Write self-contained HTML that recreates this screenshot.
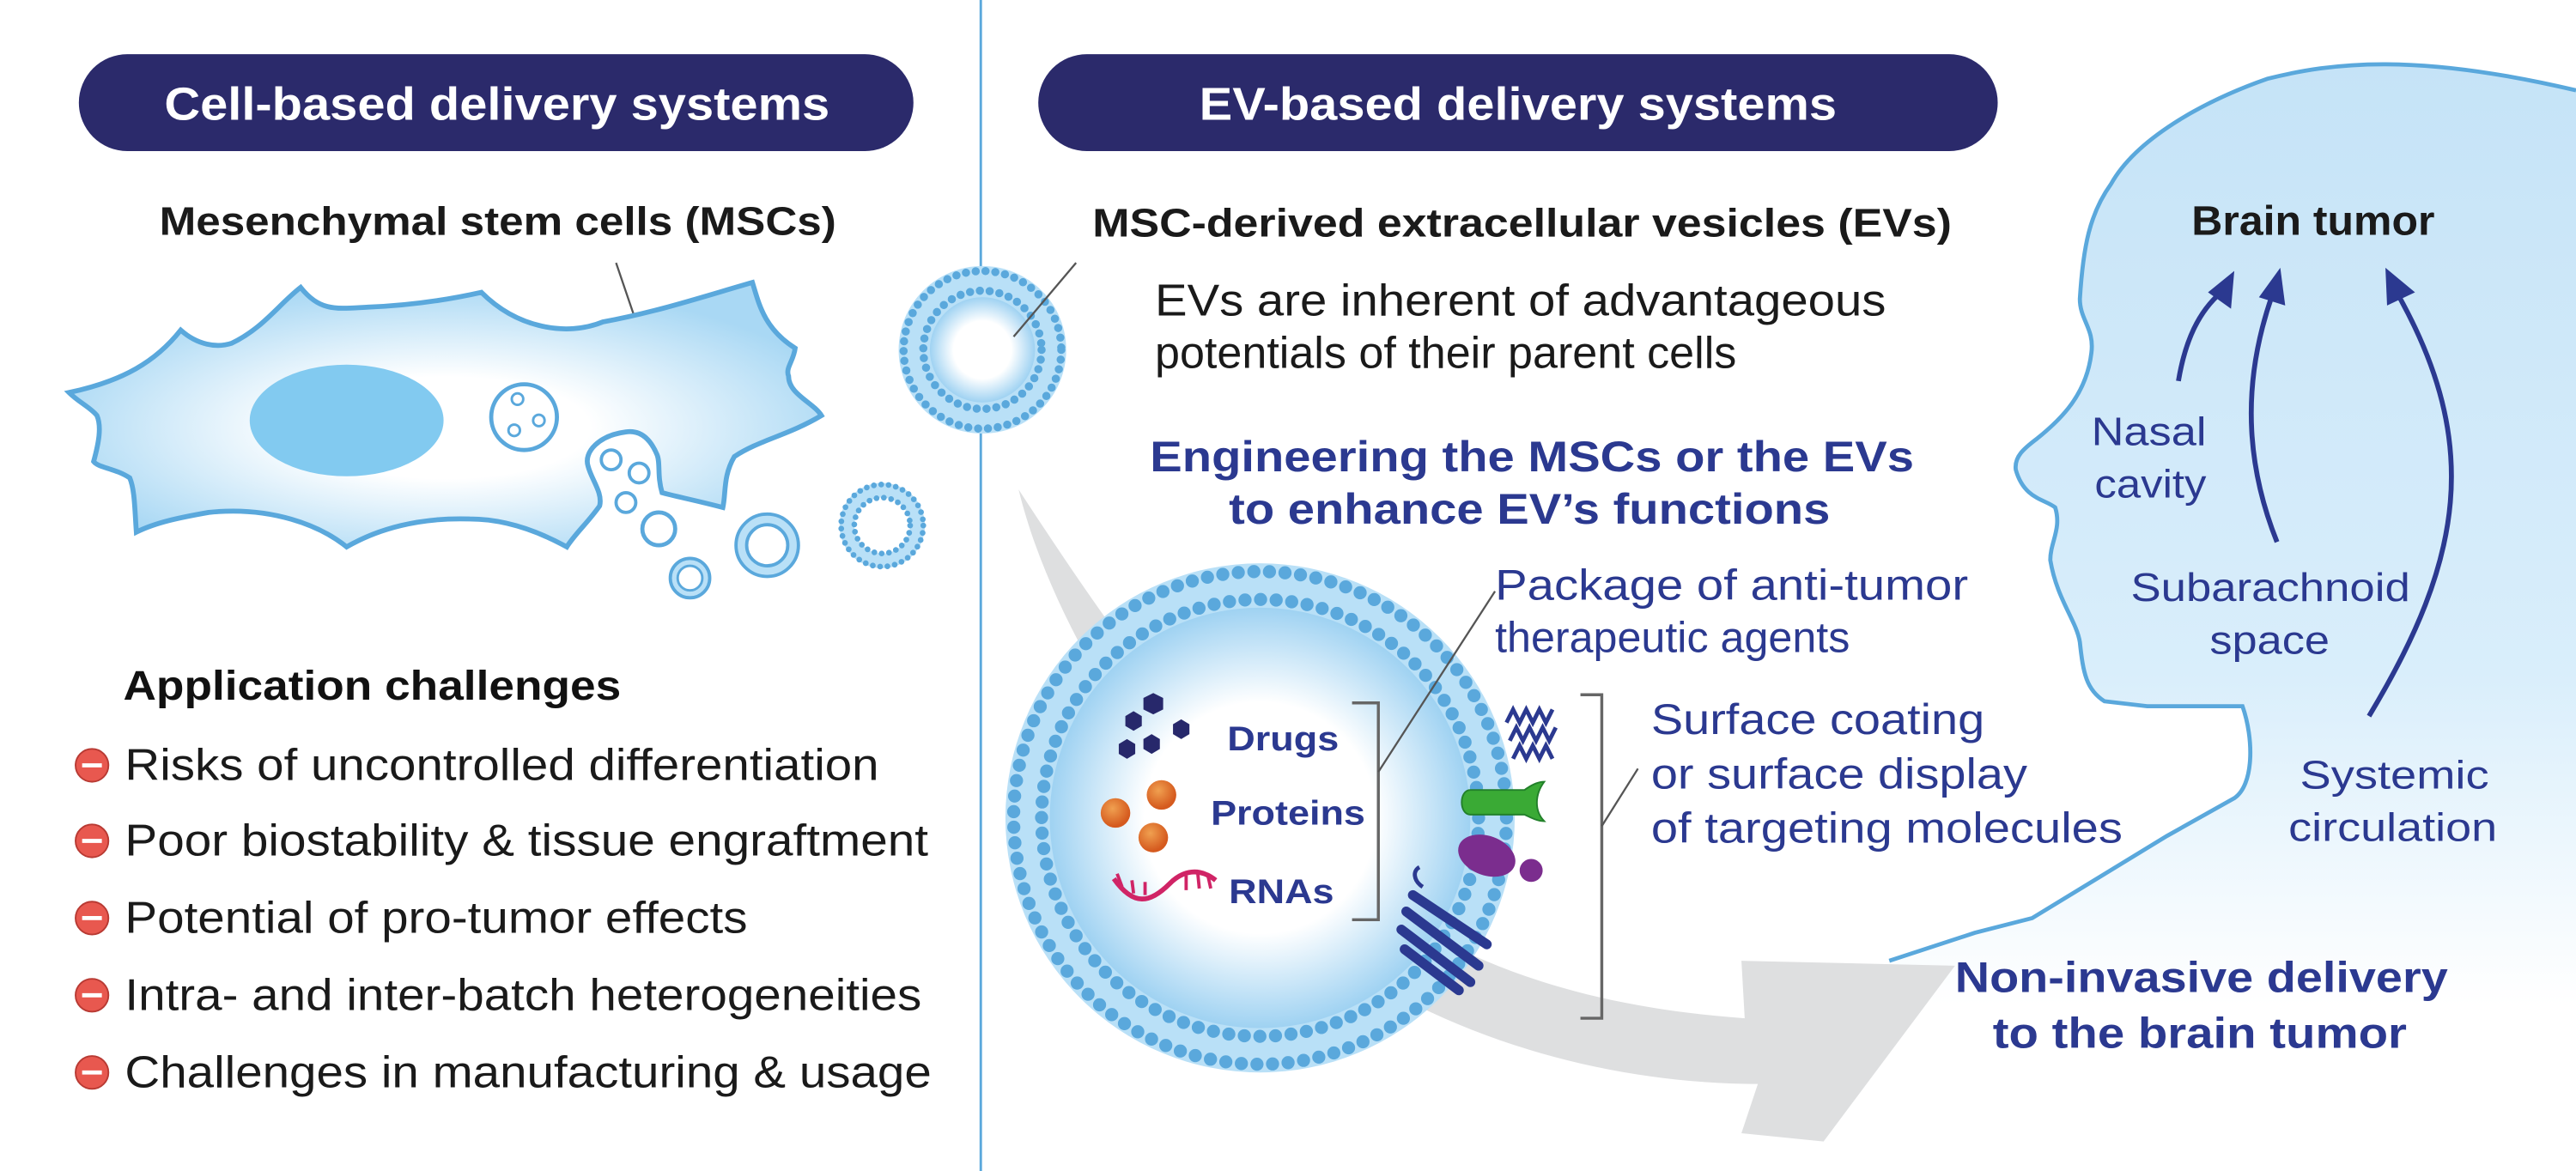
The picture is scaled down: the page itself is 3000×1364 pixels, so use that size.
<!DOCTYPE html>
<html><head><meta charset="utf-8"><style>
html,body{margin:0;padding:0;background:#fff}
svg{display:block}
text{font-family:"Liberation Sans",Arial,sans-serif}
</style></head><body>
<svg width="3000" height="1364" viewBox="0 0 1568 713" preserveAspectRatio="none" xmlns="http://www.w3.org/2000/svg">
<defs>
<radialGradient id="cellg" cx="0.5" cy="0.55" r="0.55"><stop offset="0" stop-color="#fff"/><stop offset="0.35" stop-color="#fff"/><stop offset="1" stop-color="#a9d8f4"/></radialGradient>
<radialGradient id="evg" cx="0.5" cy="0.5" r="0.5"><stop offset="0" stop-color="#fff"/><stop offset="0.55" stop-color="#fff"/><stop offset="1" stop-color="#9fd2f2"/></radialGradient>
<linearGradient id="headg" x1="0" y1="0" x2="0" y2="1"><stop offset="0" stop-color="#c5e3f7"/><stop offset="0.55" stop-color="#d9eefb"/><stop offset="0.85" stop-color="#fff"/></linearGradient>
<radialGradient id="org" cx="0.4" cy="0.35" r="0.6"><stop offset="0" stop-color="#f0a050"/><stop offset="1" stop-color="#d55a1e"/></radialGradient>
</defs>

<line x1="597" y1="0" x2="597" y2="713" stroke="#5aa8dc" stroke-width="1.5"/>

<!-- head -->
<path d="M1150,585 L1202,568 L1237,559 L1319,509 L1360,486 C1372,478 1372,450 1365,430 L1307,430 L1281,427 C1270,420 1268,410 1266,391 C1264,378 1252,365 1248,341 C1248,330 1255,322 1251,309 C1245,304 1232,304 1227,286 C1226,278 1232,273 1240,267 C1255,255 1270,240 1273,215 C1275,200 1266,195 1266,182 C1268,150 1272,130 1285,112 C1300,85 1340,62 1380,48 C1420,38 1470,32 1568,55 L1568,713 L1150,713 Z" fill="url(#headg)"/>
<path d="M1150,585 L1202,568 L1237,559 L1319,509 L1360,486 C1372,478 1372,450 1365,430 L1307,430 L1281,427 C1270,420 1268,410 1266,391 C1264,378 1252,365 1248,341 C1248,330 1255,322 1251,309 C1245,304 1232,304 1227,286 C1226,278 1232,273 1240,267 C1255,255 1270,240 1273,215 C1275,200 1266,195 1266,182 C1268,150 1272,130 1285,112 C1300,85 1340,62 1380,48 C1420,38 1470,32 1568,55" fill="none" stroke="#5aa8dc" stroke-width="2.5"/>

<!-- gray arrow -->
<path d="M620,298 C640,380 700,470 760,540 C840,620 960,660 1070,660 L1060,690 L1110,695 L1190,588 L1060,585 L1062,620 C950,612 870,580 800,520 C730,460 680,390 620,298 Z" fill="#dedfe0"/>

<!-- pills -->
<rect x="48" y="33" width="508" height="59" rx="29.5" fill="#2b2a6b"/>
<text x="100" y="73" font-size="28" font-weight="bold" fill="#fff" textLength="405" lengthAdjust="spacingAndGlyphs">Cell-based delivery systems</text>
<rect x="632" y="33" width="584" height="59" rx="29.5" fill="#2b2a6b"/>
<text x="730" y="73" font-size="28" font-weight="bold" fill="#fff" textLength="388" lengthAdjust="spacingAndGlyphs">EV-based delivery systems</text>

<text x="97" y="143" font-size="24" font-weight="bold" fill="#1a1a1a" textLength="412" lengthAdjust="spacingAndGlyphs">Mesenchymal stem cells (MSCs)</text>
<line x1="375" y1="160" x2="392" y2="210" stroke="#555" stroke-width="1.2"/>

<!-- cell -->
<path d="M42,239 C75,232 95,220 110,201 C120,210 132,212 141,209 C160,200 170,185 183,175 C195,190 205,188 224,187 C250,186 275,182 293,178 C315,200 345,205 367,196 C400,190 430,180 458,172 C462,185 465,200 484,212 C483,220 478,224 480,229 C480,240 495,245 500,253 C480,265 462,268 447,278 C440,290 442,300 440,309 C425,305 410,302 403,300 C400,290 402,282 400,277 C395,265 388,262 381,263 C365,265 355,275 358,284 C360,292 367,300 365,308 C358,318 350,325 345,333 C325,322 305,316 286,316 C255,315 230,322 211,333 C195,320 165,308 127,312 C110,315 95,318 83,324 C82,310 82,298 79,291 C70,285 60,285 57,281 C60,270 62,260 59,253 C55,248 48,245 42,239 Z" fill="url(#cellg)" stroke="#5aa8dc" stroke-width="3"/>
<ellipse cx="211" cy="256" rx="59" ry="34" fill="#82caf0"/>
<ellipse cx="319" cy="254" rx="20" ry="20" fill="#fff" stroke="#5aa8dc" stroke-width="2.5"/>
<circle cx="315" cy="243" r="3.5" fill="#fff" stroke="#5aa8dc" stroke-width="1.5"/>
<circle cx="328" cy="256" r="3.5" fill="#fff" stroke="#5aa8dc" stroke-width="1.5"/>
<circle cx="313" cy="262" r="3.5" fill="#fff" stroke="#5aa8dc" stroke-width="1.5"/>
<circle cx="372" cy="280" r="6" fill="#fff" stroke="#5aa8dc" stroke-width="2"/>
<circle cx="389" cy="288" r="6" fill="#fff" stroke="#5aa8dc" stroke-width="2"/>
<circle cx="381" cy="306" r="6" fill="#fff" stroke="#5aa8dc" stroke-width="2"/>
<circle cx="401" cy="322" r="10" fill="#fff" stroke="#5aa8dc" stroke-width="2.5"/>
<circle cx="420" cy="352" r="12" fill="#b9e0f7" stroke="#5aa8dc" stroke-width="2"/>
<circle cx="420" cy="352" r="7.5" fill="#fff" stroke="#5aa8dc" stroke-width="1.5"/>
<circle cx="467" cy="332" r="19" fill="#b9e0f7" stroke="#5aa8dc" stroke-width="2"/>
<circle cx="467" cy="332" r="12.5" fill="#fff" stroke="#5aa8dc" stroke-width="2"/>
<circle cx="537" cy="320" r="26" fill="#b9e0f7"/>
<circle cx="537" cy="320" r="25" fill="none" stroke="#5aa8dc" stroke-width="3.5" stroke-dasharray="0 4.5" stroke-linecap="round"/>
<circle cx="537" cy="320" r="17" fill="#fff" stroke="#5aa8dc" stroke-width="3.5" stroke-dasharray="0 4.5" stroke-linecap="round"/>

<!-- challenges -->
<text x="75" y="426" font-size="25" font-weight="bold" fill="#111" textLength="303" lengthAdjust="spacingAndGlyphs">Application challenges</text>
<g font-size="27" fill="#1a1a1a">
<text x="76" y="475" textLength="459" lengthAdjust="spacingAndGlyphs">Risks of uncontrolled differentiation</text>
<text x="76" y="521" textLength="489" lengthAdjust="spacingAndGlyphs">Poor biostability &amp; tissue engraftment</text>
<text x="76" y="568" textLength="379" lengthAdjust="spacingAndGlyphs">Potential of pro-tumor effects</text>
<text x="76" y="615" textLength="485" lengthAdjust="spacingAndGlyphs">Intra- and inter-batch heterogeneities</text>
<text x="76" y="662" textLength="491" lengthAdjust="spacingAndGlyphs">Challenges in manufacturing &amp; usage</text>
</g>
<g fill="#e8584f" stroke="#b83a33" stroke-width="1">
<circle cx="56" cy="466" r="10"/><circle cx="56" cy="512" r="10"/><circle cx="56" cy="559" r="10"/><circle cx="56" cy="606" r="10"/><circle cx="56" cy="653" r="10"/>
</g>
<g stroke="#fff" stroke-width="2.5">
<line x1="50" y1="466" x2="62" y2="466"/><line x1="50" y1="512" x2="62" y2="512"/><line x1="50" y1="559" x2="62" y2="559"/><line x1="50" y1="606" x2="62" y2="606"/><line x1="50" y1="653" x2="62" y2="653"/>
</g>

<!-- small EV -->
<circle cx="598" cy="213" r="51" fill="#b9e0f7"/>
<circle cx="598" cy="213" r="32" fill="url(#evg)"/>
<circle cx="598" cy="213" r="48" fill="none" stroke="#5aa8dc" stroke-width="5" stroke-dasharray="0 6" stroke-linecap="round"/>
<circle cx="598" cy="213" r="36" fill="none" stroke="#5aa8dc" stroke-width="5" stroke-dasharray="0 6" stroke-linecap="round"/>
<line x1="617" y1="205" x2="655" y2="160" stroke="#555" stroke-width="1.2"/>

<text x="665" y="144" font-size="24" font-weight="bold" fill="#1a1a1a" textLength="523" lengthAdjust="spacingAndGlyphs">MSC-derived extracellular vesicles (EVs)</text>
<text x="703" y="192" font-size="27" fill="#1a1a1a" textLength="445" lengthAdjust="spacingAndGlyphs">EVs are inherent of advantageous</text>
<text x="703" y="224" font-size="27" fill="#1a1a1a" textLength="354" lengthAdjust="spacingAndGlyphs">potentials of their parent cells</text>
<text x="700" y="287" font-size="26" font-weight="bold" fill="#2b3990" textLength="465" lengthAdjust="spacingAndGlyphs">Engineering the MSCs or the EVs</text>
<text x="748" y="319" font-size="26" font-weight="bold" fill="#2b3990" textLength="366" lengthAdjust="spacingAndGlyphs">to enhance EV’s functions</text>

<!-- big EV -->
<circle cx="767" cy="498" r="155" fill="#b9e0f7"/>
<circle cx="767" cy="498" r="128" fill="url(#evg)"/>
<circle cx="767" cy="498" r="150" fill="none" stroke="#5aa8dc" stroke-width="8" stroke-dasharray="0 9.5" stroke-linecap="round"/>
<circle cx="767" cy="498" r="133" fill="none" stroke="#5aa8dc" stroke-width="8" stroke-dasharray="0 9.5" stroke-linecap="round"/>

<g fill="#27286b">
<polygon points="702,422 708,425 708,432 702,435 696,432 696,425"/>
<polygon points="690,433 695,436 695,442 690,445 685,442 685,436"/>
<polygon points="719,438 724,441 724,447 719,450 714,447 714,441"/>
<polygon points="701,447 706,450 706,456 701,459 696,456 696,450"/>
<polygon points="686,450 691,453 691,459 686,462 681,459 681,453"/>
</g>
<text x="747" y="457" font-size="21" font-weight="bold" fill="#2b3990" textLength="68" lengthAdjust="spacingAndGlyphs">Drugs</text>
<circle cx="707" cy="484" r="9" fill="url(#org)"/>
<circle cx="679" cy="495" r="9" fill="url(#org)"/>
<circle cx="702" cy="510" r="9" fill="url(#org)"/>
<text x="737" y="502" font-size="21" font-weight="bold" fill="#2b3990" textLength="94" lengthAdjust="spacingAndGlyphs">Proteins</text>
<path d="M678,535 C690,552 700,550 712,538 C720,530 730,528 740,536" fill="none" stroke="#d02466" stroke-width="3"/>
<g stroke="#d02466" stroke-width="2"><line x1="683" y1="540" x2="680" y2="532"/><line x1="690" y1="544" x2="689" y2="536"/><line x1="697" y1="545" x2="697" y2="537"/><line x1="722" y1="533" x2="722" y2="542"/><line x1="729" y1="531" x2="730" y2="541"/><line x1="735" y1="532" x2="737" y2="541"/></g>
<text x="748" y="550" font-size="21" font-weight="bold" fill="#2b3990" textLength="64" lengthAdjust="spacingAndGlyphs">RNAs</text>

<polyline points="823,428 839,428 839,560 823,560" fill="none" stroke="#666" stroke-width="1.8"/>
<line x1="839" y1="470" x2="910" y2="360" stroke="#555" stroke-width="1.2"/>
<text x="910" y="365" font-size="26" fill="#2b3990" textLength="288" lengthAdjust="spacingAndGlyphs">Package of anti-tumor</text>
<text x="910" y="397" font-size="26" fill="#2b3990" textLength="216" lengthAdjust="spacingAndGlyphs">therapeutic agents</text>

<g fill="none" stroke="#2b3990" stroke-width="2.5">
<path d="M917,440 l4,-8 l4,8 l4,-8 l4,8 l4,-8 l4,8 l4,-8"/>
<path d="M919,451 l4,-8 l4,8 l4,-8 l4,8 l4,-8 l4,8 l4,-8"/>
<path d="M921,462 l4,-8 l4,8 l4,-8 l4,8 l4,-8 l4,8"/>
</g>
<path d="M895,481 L928,481 C932,478 936,476 940,476 C934,484 934,494 940,500 C936,500 932,498 928,496 L895,496 C888,496 888,481 895,481 Z" fill="#3aaa35" stroke="#22802a" stroke-width="1"/>
<ellipse cx="905" cy="521" rx="18" ry="12" fill="#7b2d8e" transform="rotate(20 905 521)"/>
<circle cx="932" cy="530" r="7" fill="#7b2d8e"/>
<g fill="none" stroke="#2b3990" stroke-width="6" stroke-linecap="round">
<line x1="860" y1="545" x2="905" y2="575"/>
<line x1="856" y1="555" x2="900" y2="588"/>
<line x1="853" y1="566" x2="895" y2="598"/>
<line x1="855" y1="578" x2="888" y2="603"/>
</g>
<path d="M866,540 C860,536 860,530 864,528" fill="none" stroke="#2b3990" stroke-width="2.5"/>

<polyline points="962,423 975,423 975,620 962,620" fill="none" stroke="#666" stroke-width="1.8"/>
<line x1="975" y1="503" x2="997" y2="468" stroke="#555" stroke-width="1.2"/>
<text x="1005" y="447" font-size="26" fill="#2b3990" textLength="203" lengthAdjust="spacingAndGlyphs">Surface coating</text>
<text x="1005" y="480" font-size="26" fill="#2b3990" textLength="229" lengthAdjust="spacingAndGlyphs">or surface display</text>
<text x="1005" y="513" font-size="26" fill="#2b3990" textLength="287" lengthAdjust="spacingAndGlyphs">of targeting molecules</text>

<!-- head labels -->
<text x="1334" y="143" font-size="25" font-weight="bold" fill="#1a1a1a" textLength="148" lengthAdjust="spacingAndGlyphs">Brain tumor</text>
<g fill="none" stroke="#2b3990" stroke-width="3">
<path d="M1326,232 C1330,208 1338,190 1352,178"/>
<path d="M1386,330 C1370,290 1362,240 1383,180"/>
<path d="M1442,436 C1500,340 1510,270 1460,180"/>
</g>
<g fill="#2b3990">
<polygon points="1360,165 1344,178 1358,188"/>
<polygon points="1388,163 1375,181 1391,186"/>
<polygon points="1452,163 1453,186 1470,178"/>
</g>
<g font-size="24" fill="#2b3990">
<text x="1273" y="271" textLength="70" lengthAdjust="spacingAndGlyphs">Nasal</text>
<text x="1275" y="303" textLength="68" lengthAdjust="spacingAndGlyphs">cavity</text>
<text x="1297" y="366" textLength="170" lengthAdjust="spacingAndGlyphs">Subarachnoid</text>
<text x="1345" y="398" textLength="73" lengthAdjust="spacingAndGlyphs">space</text>
<text x="1400" y="480" textLength="115" lengthAdjust="spacingAndGlyphs">Systemic</text>
<text x="1393" y="512" textLength="127" lengthAdjust="spacingAndGlyphs">circulation</text>
</g>
<text x="1190" y="604" font-size="26" font-weight="bold" fill="#2b3990" textLength="300" lengthAdjust="spacingAndGlyphs">Non-invasive delivery</text>
<text x="1213" y="638" font-size="26" font-weight="bold" fill="#2b3990" textLength="252" lengthAdjust="spacingAndGlyphs">to the brain tumor</text>
</svg>
</body></html>
